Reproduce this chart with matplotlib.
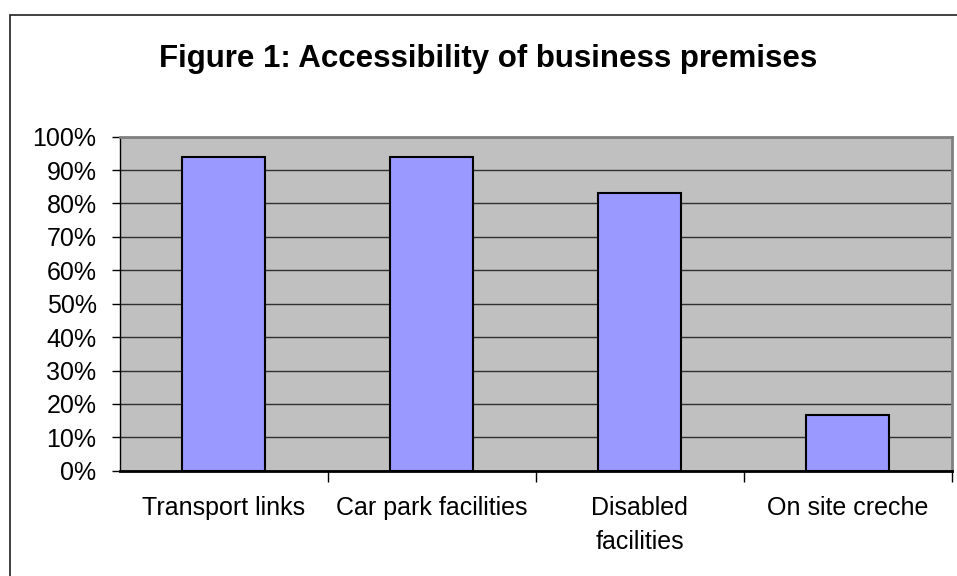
import matplotlib.pyplot as plt
from matplotlib.patches import Rectangle
from matplotlib.ticker import FuncFormatter, FixedLocator

# values
categories = ["Transport links", "Car park facilities", "Disabled\nfacilities", "On site creche"]
shares = [0.94, 0.94, 0.83, 0.167]
y_ticks = [i / 10 for i in range(11)]

plt.rcParams['font.family'] = ['Liberation Sans', 'DejaVu Sans']

fig = plt.figure(figsize=(9.57, 5.76), dpi=100)

# outer chart border (only left and top visible in the reference)
fig.patches.append(Rectangle((9.5 / 957, -0.5), 2.0, 1.5 - 14.7 / 576,
                             transform=fig.transFigure, fill=False,
                             edgecolor='#202020', linewidth=1.2))

ax = fig.add_axes([119.5 / 957, 1 - 470.7 / 576,
                   (951.7 - 119.5) / 957, (470.7 - 136.7) / 576])
ax.set_facecolor('#C0C0C0')

x = list(range(len(categories)))
ax.bar(x, shares, width=0.4, color='#9999FF', edgecolor='black', linewidth=1.5, zorder=3)

ax.set_xlim(-0.5, len(categories) - 0.5)
ax.set_ylim(0, 1)
ax.yaxis.set_major_locator(FixedLocator(y_ticks))
ax.yaxis.set_major_formatter(FuncFormatter(lambda v, p: f"{v * 100:.0f}%"))
ax.grid(axis='y', color='#303030', linewidth=1.0, zorder=1)

# category labels centred, ticks at category boundaries
ax.set_xticks(x)
ax.set_xticklabels(categories, fontsize=18, linespacing=1.55)
ax.tick_params(axis='x', length=0, pad=18)
ax.set_xticks([i + 0.5 for i in x], minor=True)
ax.tick_params(axis='x', which='minor', length=8, width=1.0, color='black')
ax.tick_params(axis='y', labelsize=18, length=5.5, width=1.0, pad=11)

for side in ['top', 'right']:
    ax.spines[side].set_color('#808080')
    ax.spines[side].set_linewidth(2.0)
ax.spines['left'].set_color('black')
ax.spines['left'].set_linewidth(1.0)
ax.spines['bottom'].set_color('black')
ax.spines['bottom'].set_linewidth(2.0)

# title is centred on the (cropped) chart area, not on the plot area
fig.text(488 / 957, 1 - 67 / 576, "Figure 1: Accessibility of business premises",
         ha='center', va='baseline', fontsize=22.5, fontweight='bold')

fig.savefig('out.png', dpi=100)
